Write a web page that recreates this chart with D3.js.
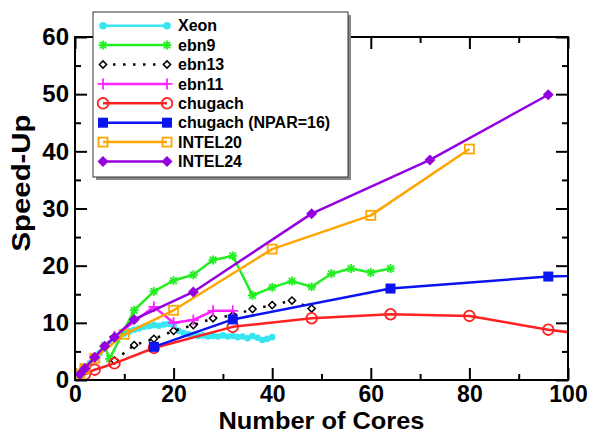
<!DOCTYPE html>
<html>
<head>
<meta charset="utf-8">
<script src="https://cdn.jsdelivr.net/npm/d3@7"></script>
<style>
  body { margin: 0; background: #fff; }
  svg { display: block; }
  text { font-family: "Liberation Sans", Arial, Helvetica, sans-serif; font-weight: bold; fill: #000; }
</style>
</head>
<body>
<svg id="chart" width="593" height="435"></svg>
<script>
// ---- measured speed-up per core count ----
const xeonCores = [1,2,3,4,5,6,7,8,9,10,11,12,13,14,15,16,17,18,19,20,
                   21,22,23,24,25,26,27,28,29,30,31,32,33,34,35,36,37,38,39,40];
const xeonSpeedup = [1,2,2.9,3.8,4.7,5.6,6.4,7.1,7.6,8.1,8.5,8.8,9.0,9.3,9.4,9.6,9.5,9.7,9.8,9.5,
                     8.6,8.2,8.0,7.9,7.7,7.8,7.6,7.7,7.6,7.8,7.6,7.7,7.5,7.6,7.3,7.7,7.4,7.0,7.2,7.5];

const ebn9Cores = [1,2,4,6,7,12,16,20,24,28,32,36,40,44,48,52,56,60,64];
const ebn9Speedup = [1,2,3.9,6.0,3.7,12.2,15.5,17.4,18.4,21.0,21.7,14.8,16.2,17.3,16.3,18.6,19.5,18.8,19.5];

const ebn13Cores = [8,12,16,20,24,28,32,36,40,44,48];
const ebn13Speedup = [3.4,6.1,7.2,8.6,9.6,10.8,11.3,12.4,13.1,13.9,12.5];

const ebn11Cores = [1,2,4,8,16,20,24,28,32];
const ebn11Speedup = [1,2,3.9,7.6,12.8,10.0,10.5,12.1,12.1];

const chugachCores = [2,4,8,16,32,48,64,80,96,128];
const chugachSpeedup = [1.0,1.8,2.9,5.6,9.3,10.8,11.5,11.2,8.8,5.4];

const chugachNparCores = [16,32,64,96,128];
const chugachNparSpeedup = [5.8,10.6,16.0,18.1,18.8];

const intel20Cores = [1,2,4,10,20,40,60,80];
const intel20Speedup = [1,2,3.8,8.0,12.2,22.9,28.8,40.4];

const intel24Cores = [1,2,4,6,8,12,24,48,72,96];
const intel24Speedup = [1,2,4.0,5.9,7.5,10.6,15.4,29.1,38.5,49.9];

// ---- axis ticks ----
const xMajorTicks = [0,20,40,60,80,100];
const xMinorTicks = [10,30,50,70,90];
const yMajorTicks = [0,10,20,30,40,50,60];
const yMinorTicks = [5,15,25,35,45,55];

const seriesNames = ["Xeon","ebn9","ebn13","ebn11","chugach","chugach (NPAR=16)","INTEL20","INTEL24"];
const seriesCores = [xeonCores, ebn9Cores, ebn13Cores, ebn11Cores, chugachCores, chugachNparCores, intel20Cores, intel24Cores];
const seriesSpeedup = [xeonSpeedup, ebn9Speedup, ebn13Speedup, ebn11Speedup, chugachSpeedup, chugachNparSpeedup, intel20Speedup, intel24Speedup];

// drawing style of each set
const styles = [
  { color: "#38e6f2", marker: "dot",           dash: null },
  { color: "#22ee22", marker: "star",          dash: null },
  { color: "#000000", marker: "diamondOpen",   dash: "2.5 7.5" },
  { color: "#ff22ff", marker: "plus",          dash: null },
  { color: "#ff2020", marker: "circleOpen",    dash: null },
  { color: "#0a14f0", marker: "squareFilled",  dash: null },
  { color: "#ffa500", marker: "squareOpen",    dash: null },
  { color: "#9400e0", marker: "diamondFilled", dash: null }
];

const svg = d3.select("#chart");
const plotLeft = 75, plotRight = 568, plotTop = 37, plotBottom = 380;

const x = d3.scaleLinear().domain([0, 100]).range([plotLeft, plotRight]);
const y = d3.scaleLinear().domain([0, 60]).range([plotBottom, plotTop]);

// ---- axes with inward ticks on all four sides ----
function styleAxis(g, fontSize) {
  g.select(".domain").remove();
  g.selectAll(".tick line").attr("stroke", "#000").attr("stroke-width", 2);
  g.selectAll("text").attr("font-size", fontSize).attr("font-family", null);
}
const major = 12, minor = 6;

svg.append("g").attr("transform", `translate(0,${plotBottom})`)
  .call(d3.axisBottom(x).tickValues(xMajorTicks).tickSizeInner(-major).tickSizeOuter(0).tickPadding(6).tickFormat(d3.format("d")))
  .call(g => styleAxis(g, 23));
svg.append("g").attr("transform", `translate(0,${plotBottom})`)
  .call(d3.axisBottom(x).tickValues(xMinorTicks).tickSizeInner(-minor).tickSizeOuter(0).tickFormat(""))
  .call(g => styleAxis(g, 0));
svg.append("g").attr("transform", `translate(0,${plotTop})`)
  .call(d3.axisTop(x).tickValues(xMajorTicks).tickSizeInner(-major).tickSizeOuter(0).tickFormat(""))
  .call(g => styleAxis(g, 0));
svg.append("g").attr("transform", `translate(0,${plotTop})`)
  .call(d3.axisTop(x).tickValues(xMinorTicks).tickSizeInner(-minor).tickSizeOuter(0).tickFormat(""))
  .call(g => styleAxis(g, 0));

svg.append("g").attr("transform", `translate(${plotLeft},0)`)
  .call(d3.axisLeft(y).tickValues(yMajorTicks).tickSizeInner(-major).tickSizeOuter(0).tickPadding(6).tickFormat(d3.format("d")))
  .call(g => styleAxis(g, 24));
svg.append("g").attr("transform", `translate(${plotLeft},0)`)
  .call(d3.axisLeft(y).tickValues(yMinorTicks).tickSizeInner(-minor).tickSizeOuter(0).tickFormat(""))
  .call(g => styleAxis(g, 0));
svg.append("g").attr("transform", `translate(${plotRight},0)`)
  .call(d3.axisRight(y).tickValues(yMajorTicks).tickSizeInner(-major).tickSizeOuter(0).tickFormat(""))
  .call(g => styleAxis(g, 0));
svg.append("g").attr("transform", `translate(${plotRight},0)`)
  .call(d3.axisRight(y).tickValues(yMinorTicks).tickSizeInner(-minor).tickSizeOuter(0).tickFormat(""))
  .call(g => styleAxis(g, 0));

// ---- axis titles ----
svg.append("text")
  .attr("x", (plotLeft + plotRight) / 2).attr("y", 429)
  .attr("text-anchor", "middle").attr("font-size", 24)
  .attr("textLength", 206).attr("lengthAdjust", "spacingAndGlyphs")
  .text("Number of Cores");
svg.append("text")
  .attr("transform", "translate(30,183) rotate(-90)")
  .attr("text-anchor", "middle").attr("font-size", 26)
  .attr("textLength", 137).attr("lengthAdjust", "spacingAndGlyphs")
  .text("Speed-Up");

// ---- plotted sets, clipped to the frame ----
svg.append("clipPath").attr("id", "plotClip")
  .append("rect").attr("x", plotLeft).attr("y", plotTop)
  .attr("width", plotRight - plotLeft).attr("height", plotBottom - plotTop);

function drawMarker(g, type, color, cx, cy, scale = 1) {
  switch (type) {
    case "dot":
      g.append("circle").attr("cx", cx).attr("cy", cy).attr("r", 3.3 * scale).attr("fill", color);
      break;
    case "star": {
      const r = 4.5;
      [[r,0],[0,r],[r*0.72,r*0.72],[r*0.72,-r*0.72]].forEach(([dx,dy]) =>
        g.append("line").attr("x1", cx-dx).attr("y1", cy-dy).attr("x2", cx+dx).attr("y2", cy+dy)
          .attr("stroke", color).attr("stroke-width", 1.8));
      break;
    }
    case "diamondOpen": {
      const r = 3.6;
      g.append("path").attr("d", `M${cx},${cy-r}L${cx+r},${cy}L${cx},${cy+r}L${cx-r},${cy}Z`)
        .attr("fill", "#fff").attr("stroke", color).attr("stroke-width", 1.5);
      break;
    }
    case "plus": {
      const r = 5.5;
      g.append("path").attr("d", `M${cx-r},${cy}H${cx+r}M${cx},${cy-r}V${cy+r}`)
        .attr("stroke", color).attr("stroke-width", 1.8).attr("fill", "none");
      break;
    }
    case "circleOpen":
      g.append("circle").attr("cx", cx).attr("cy", cy).attr("r", 5.3)
        .attr("fill", "none").attr("stroke", color).attr("stroke-width", 1.8);
      break;
    case "squareFilled":
      g.append("rect").attr("x", cx-5).attr("y", cy-5).attr("width", 10).attr("height", 10).attr("fill", color);
      break;
    case "squareOpen":
      g.append("rect").attr("x", cx-4.5).attr("y", cy-4.5).attr("width", 9).attr("height", 9)
        .attr("fill", "none").attr("stroke", color).attr("stroke-width", 1.8);
      break;
    case "diamondFilled": {
      const r = 5.5;
      g.append("path").attr("d", `M${cx},${cy-r}L${cx+r},${cy}L${cx},${cy+r}L${cx-r},${cy}Z`).attr("fill", color);
      break;
    }
  }
}

const plot = svg.append("g").attr("clip-path", "url(#plotClip)");
const line = d3.line().x(d => x(d[0])).y(d => y(d[1]));

seriesNames.forEach((name, i) => {
  const st = styles[i];
  const pts = seriesCores[i].map((c, k) => [c, seriesSpeedup[i][k]]);
  const g = plot.append("g");
  g.append("path").datum(pts).attr("d", line)
    .attr("fill", "none").attr("stroke", st.color)
    .attr("stroke-width", 2.5)
    .attr("stroke-dasharray", st.dash)
    .attr("stroke-linejoin", "round");
  pts.forEach(p => drawMarker(g, st.marker, st.color, x(p[0]), y(p[1])));
});

// ---- frame ----
svg.append("rect").attr("x", plotLeft).attr("y", plotTop)
  .attr("width", plotRight - plotLeft).attr("height", plotBottom - plotTop)
  .attr("fill", "none").attr("stroke", "#000").attr("stroke-width", 2);

// ---- legend box with drop shadow ----
const lg = { x: 93, y: 12, w: 255, h: 165 };
svg.append("rect").attr("x", lg.x + 3).attr("y", lg.y + 3).attr("width", lg.w).attr("height", lg.h).attr("fill", "#888");
svg.append("rect").attr("x", lg.x).attr("y", lg.y).attr("width", lg.w).attr("height", lg.h)
  .attr("fill", "#fff").attr("stroke", "#333").attr("stroke-width", 1);

seriesNames.forEach((name, i) => {
  const st = styles[i];
  const ry = 25.7 + i * 19.4;
  const g = svg.append("g");
  g.append("line").attr("x1", 103).attr("x2", 167).attr("y1", ry).attr("y2", ry)
    .attr("stroke", st.color).attr("stroke-width", 2.5).attr("stroke-dasharray", st.dash);
  drawMarker(g, st.marker, st.color, 103, ry, 1.15);
  drawMarker(g, st.marker, st.color, 167, ry, 1.15);
  g.append("text").attr("x", 178).attr("y", ry).attr("dy", "0.36em")
    .attr("font-size", 16).text(name);
});
</script>
</body>
</html>
